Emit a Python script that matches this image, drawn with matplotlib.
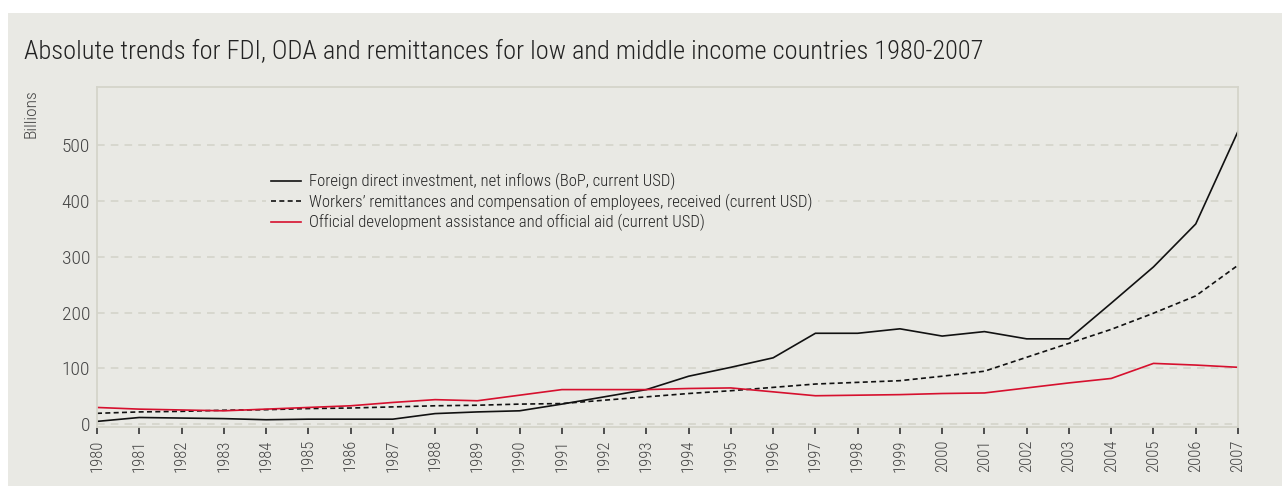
import matplotlib.pyplot as plt
from matplotlib import font_manager
from matplotlib.patches import Rectangle

# Data (billions of current USD)
years = list(range(1980, 2008))
fdi = [5, 12, 11, 10, 8, 9, 9, 9, 19, 22, 24, 36, 49, 62, 86, 102, 119, 163,
       163, 171, 158, 166, 153, 153, 217, 282, 359, 525]
remittances = [19.5, 22, 23, 25, 26, 28, 29, 31, 33, 34, 36, 37, 43, 49, 55, 60,
               66, 72, 75, 78, 86, 95, 120, 145, 170, 199, 230, 285]
oda = [30, 27, 25.5, 24, 27, 30, 33, 39, 44, 42, 52, 62, 62, 62, 64, 65, 58, 51,
       52, 53, 55, 56, 65, 74, 82, 109, 106, 102]

labels = ['Foreign direct investment, net inflows (BoP, current USD)',
          'Workers\u2019 remittances and compensation of employees, received (current USD)',
          'Official development assistance and official aid (current USD)']
title = 'Absolute trends for FDI, ODA and remittances for low and middle income countries 1980-2007'

# pick a condensed face if one is around
names = {f.name for f in font_manager.fontManager.ttflist}
narrow = next((n for n in ['Roboto Condensed', 'Liberation Sans Narrow', 'Archivo Narrow',
                           'Asap Condensed', 'Barlow Condensed'] if n in names), 'Liberation Sans')
plt.rcParams['font.family'] = [narrow, 'DejaVu Sans']

bg = '#e9e9e4'
fig = plt.figure(figsize=(12.82, 4.86), dpi=100)
fig.patch.set_facecolor('white')
fig.patches.append(Rectangle((8 / 1282, 0), 1, 1 - 13 / 486, transform=fig.transFigure,
                             facecolor=bg, edgecolor='none', zorder=-10))

ax = fig.add_axes([97 / 1282, 1 - 426.7 / 486, (1238 - 97) / 1282, (426.7 - 87.3) / 486])
ax.set_facecolor(bg)

ax.plot(years, fdi, color='#111111', lw=1.2, label=labels[0])
ax.plot(years, remittances, color='#111111', lw=1.2, ls=(0, (3, 2)), label=labels[1])
ax.plot(years, oda, color='#d6102e', lw=1.2, label=labels[2])

ax.set_xlim(1980, 2007)
ax.set_ylim(-4.5, 604)
ax.set_xticks(years)
ax.set_xticklabels([str(y) for y in years], rotation=90, fontsize=12, color='#444444',
                   fontweight='light')
ax.set_yticks([0, 100, 200, 300, 400, 500])
ax.tick_params(axis='y', length=0, pad=5, labelsize=14, labelcolor='#444444')
for t in ax.get_yticklabels():
    t.set_fontweight('light')
ax.tick_params(axis='x', length=5, width=1.2, color='#333333', direction='out', pad=4)
ax.grid(axis='y', color='#d2d2c8', ls=(0, (5, 4)), lw=1.1)
for s in ax.spines.values():
    s.set_color('#d4d4ca')
    s.set_linewidth(1.3)

leg = ax.legend(loc='upper left', bbox_to_anchor=(266 / 1282, 1 - 168 / 486),
                bbox_transform=fig.transFigure, frameon=True,
                prop={'size': 12, 'weight': 'light'},
                handlelength=1.8, handletextpad=0.5, labelspacing=0.2,
                borderpad=0.3, borderaxespad=0)
leg.get_frame().set_facecolor(bg)
leg.get_frame().set_edgecolor('none')
leg.get_frame().set_alpha(1)
for t in leg.get_texts():
    t.set_color('#222222')

fig.text(24 / 1282, 1 - 58 / 486, title, fontsize=19, fontweight='light', color='#222222',
         va='baseline', ha='left')
fig.text(31 / 1282, 1 - 89 / 486, 'Billions', fontsize=12.5, fontweight='light', color='#444444',
         rotation=90, ha='center', va='top')

fig.savefig('out.png', dpi=100, facecolor=fig.get_facecolor())
